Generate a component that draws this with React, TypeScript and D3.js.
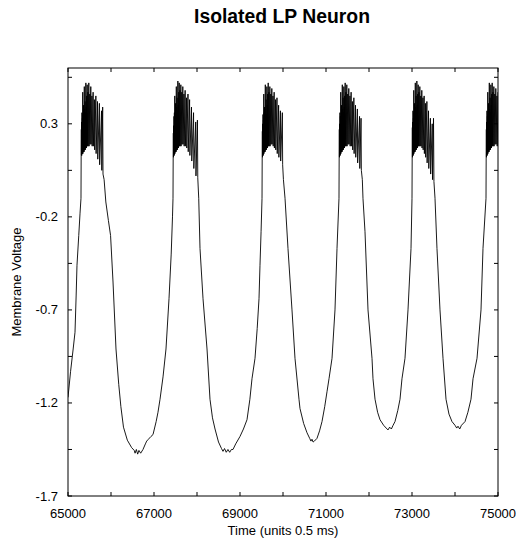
import React from "react";
import * as d3 from "d3";

// ---------- data (time in units of 0.5 ms, membrane voltage) ----------
const xTicks = [65000, 66000, 67000, 68000, 69000, 70000, 71000, 72000, 73000, 74000, 75000];
const xTickLabels = [65000, 67000, 69000, 71000, 73000, 75000];
const yTicks = [-1.7, -1.45, -1.2, -0.95, -0.7, -0.45, -0.2, 0.05, 0.3, 0.55];
const yTickLabels = [-1.7, -1.2, -0.7, -0.2, 0.3];

const wave0: [number, number][] = [
  [65000, -1.17], [65060, -1.03], [65120, -0.91], [65163, -0.82], [65190, -0.62], [65209, -0.46],
  [65250, -0.3], [65280, -0.18], [65302, -0.1],
];
const burst1: [number, number][] = [
  [65306, 0.13], [65310, 0.27], [65313, 0.13], [65317, 0.31], [65320, 0.13], [65325, 0.36], [65329, 0.14],
  [65334, 0.33], [65338, 0.14], [65343, 0.47], [65347, 0.14], [65352, 0.35], [65356, 0.15], [65361, 0.4],
  [65365, 0.15], [65370, 0.37], [65374, 0.15], [65379, 0.5], [65383, 0.16], [65388, 0.38], [65392, 0.16],
  [65397, 0.42], [65401, 0.16], [65406, 0.36], [65410, 0.17], [65415, 0.52], [65419, 0.17], [65425, 0.39],
  [65429, 0.17], [65435, 0.45], [65439, 0.18], [65446, 0.51], [65450, 0.18],
  [65463, 0.47], [65469, 0.18], [65484, 0.52], [65490, 0.18], [65506, 0.46], [65512, 0.19], [65530, 0.5],
  [65536, 0.19], [65556, 0.45], [65562, 0.18], [65584, 0.47], [65590, 0.18], [65614, 0.43], [65620, 0.16],
  [65648, 0.45], [65654, 0.14], [65686, 0.42], [65692, 0.11], [65730, 0.41], [65736, 0.08], [65780, 0.37],
  [65786, 0.05], [65806, 0.39], [65814, 0.03],
];
const wave1: [number, number][] = [
  [65840, 0.0], [65880, -0.12], [65940, -0.22], [65990, -0.3], [66047, -0.55], [66116, -0.91], [66180, -1.1],
  [66230, -1.22], [66290, -1.33], [66380, -1.4], [66480, -1.44], [66540, -1.455], [66560, -1.47], [66590, -1.45],
  [66620, -1.475], [66650, -1.455], [66690, -1.47], [66744, -1.45], [66800, -1.42], [66830, -1.405],
  [66870, -1.395], [66930, -1.38], [66977, -1.37], [67050, -1.3], [67093, -1.25], [67140, -1.18],
  [67210, -1.06], [67279, -0.91], [67349, -0.64], [67400, -0.4], [67430, -0.2], [67442, -0.1],
];
const burst2: [number, number][] = [
  [67446, 0.12], [67450, 0.25], [67453, 0.12], [67457, 0.29], [67460, 0.13], [67465, 0.34], [67469, 0.13],
  [67474, 0.36], [67478, 0.14], [67483, 0.45], [67487, 0.14], [67492, 0.33], [67496, 0.15], [67501, 0.41],
  [67505, 0.15], [67510, 0.36], [67514, 0.15], [67519, 0.5], [67523, 0.16], [67528, 0.39], [67532, 0.16],
  [67537, 0.44], [67541, 0.16], [67546, 0.37], [67550, 0.17], [67555, 0.53], [67559, 0.17], [67565, 0.4],
  [67569, 0.17], [67575, 0.47], [67579, 0.18], [67586, 0.52], [67590, 0.18],
  [67603, 0.48], [67609, 0.18], [67624, 0.51], [67630, 0.18], [67646, 0.47], [67652, 0.19], [67670, 0.5],
  [67676, 0.19], [67696, 0.46], [67702, 0.18], [67724, 0.48], [67730, 0.18], [67756, 0.44], [67762, 0.17],
  [67790, 0.46], [67796, 0.15], [67828, 0.43], [67834, 0.13], [67872, 0.39], [67878, 0.1], [67920, 0.36],
  [67926, 0.06], [67970, 0.31], [67976, 0.02], [68010, 0.32], [68018, 0.01],
];
const wave2: [number, number][] = [
  [68040, -0.1], [68070, -0.37], [68140, -0.64], [68233, -0.91], [68302, -1.18], [68360, -1.28],
  [68419, -1.34], [68500, -1.41], [68570, -1.445], [68605, -1.46], [68640, -1.445], [68680, -1.465],
  [68720, -1.45], [68760, -1.465], [68800, -1.45], [68837, -1.45], [68900, -1.42], [69000, -1.38],
  [69080, -1.34], [69163, -1.29], [69230, -1.18], [69279, -1.07], [69349, -0.96], [69400, -0.8],
  [69442, -0.64], [69465, -0.46], [69490, -0.28], [69512, -0.1],
];
const burst3: [number, number][] = [
  [69516, 0.12], [69520, 0.26], [69523, 0.12], [69527, 0.3], [69530, 0.13], [69535, 0.35], [69539, 0.13],
  [69544, 0.32], [69548, 0.14], [69553, 0.46], [69557, 0.14], [69562, 0.36], [69566, 0.15], [69571, 0.39],
  [69575, 0.15], [69580, 0.38], [69584, 0.15], [69589, 0.51], [69593, 0.16], [69598, 0.37], [69602, 0.16],
  [69607, 0.43], [69611, 0.16], [69616, 0.35], [69620, 0.17], [69625, 0.5], [69629, 0.17], [69635, 0.4],
  [69639, 0.17], [69645, 0.46], [69649, 0.18], [69656, 0.52], [69660, 0.18],
  [69673, 0.47], [69679, 0.18], [69694, 0.5], [69700, 0.18], [69716, 0.46], [69722, 0.19], [69740, 0.49],
  [69746, 0.19], [69766, 0.45], [69772, 0.18], [69794, 0.47], [69800, 0.17], [69826, 0.43], [69832, 0.16],
  [69860, 0.44], [69866, 0.14], [69898, 0.4], [69904, 0.12], [69940, 0.37], [69946, 0.1], [69985, 0.36],
  [69992, 0.08],
];
const wave3: [number, number][] = [
  [70010, 0.0], [70047, -0.1], [70116, -0.37], [70209, -0.7], [70279, -0.96], [70372, -1.18], [70395, -1.23],
  [70480, -1.31], [70558, -1.36], [70620, -1.39], [70650, -1.405], [70674, -1.395], [70700, -1.41],
  [70730, -1.405], [70791, -1.39], [70850, -1.35], [70907, -1.3], [70970, -1.22], [71023, -1.14],
  [71070, -1.07], [71140, -0.96], [71209, -0.7], [71256, -0.37], [71302, -0.1],
];
const burst4: [number, number][] = [
  [71306, 0.12], [71310, 0.27], [71313, 0.12], [71317, 0.3], [71320, 0.13], [71325, 0.36], [71329, 0.13],
  [71334, 0.34], [71338, 0.14], [71343, 0.47], [71347, 0.14], [71352, 0.34], [71356, 0.15], [71361, 0.4],
  [71365, 0.15], [71370, 0.37], [71374, 0.15], [71379, 0.51], [71383, 0.16], [71388, 0.38], [71392, 0.16],
  [71397, 0.44], [71401, 0.16], [71406, 0.36], [71410, 0.17], [71415, 0.5], [71419, 0.17], [71425, 0.39],
  [71429, 0.17], [71435, 0.45], [71439, 0.18], [71446, 0.52], [71450, 0.18],
  [71463, 0.47], [71469, 0.18], [71484, 0.51], [71490, 0.18], [71506, 0.46], [71512, 0.19], [71530, 0.49],
  [71536, 0.19], [71556, 0.45], [71562, 0.18], [71584, 0.47], [71590, 0.18], [71614, 0.42], [71620, 0.16],
  [71648, 0.44], [71654, 0.14], [71686, 0.4], [71692, 0.12], [71730, 0.38], [71736, 0.09], [71780, 0.34],
  [71786, 0.06], [71815, 0.33], [71822, 0.05],
];
const wave4: [number, number][] = [
  [71845, 0.0], [71860, -0.1], [71907, -0.28], [71977, -0.7], [72070, -0.96], [72093, -1.07], [72140, -1.18],
  [72200, -1.25], [72256, -1.29], [72340, -1.32], [72400, -1.335], [72442, -1.345], [72480, -1.33],
  [72520, -1.34], [72560, -1.32], [72605, -1.3], [72670, -1.24], [72721, -1.18], [72767, -1.07],
  [72837, -0.96], [72907, -0.7], [72977, -0.37], [73000, -0.1],
];
const burst5: [number, number][] = [
  [73004, 0.12], [73008, 0.28], [73011, 0.12], [73015, 0.31], [73018, 0.13], [73023, 0.37], [73027, 0.13],
  [73032, 0.33], [73036, 0.14], [73041, 0.48], [73045, 0.14], [73050, 0.36], [73054, 0.15], [73059, 0.41],
  [73063, 0.15], [73068, 0.38], [73072, 0.15], [73077, 0.52], [73081, 0.16], [73086, 0.39], [73090, 0.16],
  [73095, 0.45], [73099, 0.16], [73104, 0.37], [73108, 0.17], [73113, 0.53], [73117, 0.17], [73123, 0.4],
  [73127, 0.17], [73133, 0.46], [73137, 0.18], [73144, 0.51], [73148, 0.18],
  [73161, 0.47], [73167, 0.18], [73182, 0.5], [73188, 0.18], [73204, 0.45], [73210, 0.18], [73228, 0.48],
  [73234, 0.17], [73254, 0.44], [73260, 0.16], [73282, 0.45], [73288, 0.14], [73312, 0.41], [73318, 0.12],
  [73346, 0.42], [73352, 0.09], [73384, 0.37], [73390, 0.06], [73428, 0.33], [73434, 0.03], [73470, 0.3],
  [73478, 0.0], [73500, 0.33], [73510, -0.01],
];
const wave5: [number, number][] = [
  [73535, -0.1], [73581, -0.37], [73651, -0.7], [73721, -0.96], [73791, -1.18], [73860, -1.26],
  [73930, -1.3], [74000, -1.32], [74040, -1.335], [74070, -1.325], [74110, -1.34], [74150, -1.32],
  [74233, -1.3], [74300, -1.25], [74372, -1.18], [74419, -1.07], [74512, -0.96], [74605, -0.7],
  [74651, -0.37], [74721, -0.1],
];
const burst6: [number, number][] = [
  [74725, 0.12], [74729, 0.27], [74732, 0.12], [74736, 0.31], [74739, 0.13], [74744, 0.37], [74748, 0.13],
  [74753, 0.34], [74757, 0.14], [74762, 0.47], [74766, 0.14], [74771, 0.35], [74775, 0.15], [74780, 0.41],
  [74784, 0.15], [74789, 0.37], [74793, 0.15], [74798, 0.52], [74802, 0.16], [74807, 0.38], [74811, 0.16],
  [74816, 0.44], [74820, 0.16], [74825, 0.36], [74829, 0.17], [74834, 0.51], [74838, 0.17], [74844, 0.4],
  [74848, 0.17], [74854, 0.46], [74858, 0.18], [74865, 0.52], [74869, 0.18],
  [74882, 0.47], [74888, 0.18], [74903, 0.5], [74909, 0.18], [74925, 0.46], [74931, 0.19], [74949, 0.49],
  [74955, 0.19], [74975, 0.45], [74981, 0.18], [75003, 0.47], [75009, 0.18],
];

const trace: [number, number][] = [
  ...wave0, ...burst1, ...wave1, ...burst2, ...wave2, ...burst3,
  ...wave3, ...burst4, ...wave4, ...burst5, ...wave5, ...burst6,
];

// ---------- layout ----------
const W = 516;
const H = 540;
const left = 68;
const right = 498;
const top = 68;
const bottom = 496;
const font = "Arial, 'Liberation Sans', Helvetica, sans-serif";

export default function App() {
  const x = d3.scaleLinear().domain([65000, 75000]).range([left, right]);
  const y = d3.scaleLinear().domain([-1.7, 0.6]).range([bottom, top]);
  const line = d3
    .line<[number, number]>()
    .x((d) => x(d[0]))
    .y((d) => y(d[1]));
  const tl = 4;
  const fmtY = (v: number) => (v < 0 ? "-" : "") + Math.abs(v).toFixed(1);

  return (
    <svg
      width={W}
      height={H}
      style={{ position: "absolute", left: 0, top: 0, background: "#fff" }}
      fontFamily={font}
    >
      <defs>
        <clipPath id="plotClip">
          <rect x={left} y={top} width={right - left} height={bottom - top} />
        </clipPath>
      </defs>
      <rect x={0} y={0} width={W} height={H} fill="#fff" />
      <text
        x={282}
        y={23}
        textAnchor="middle"
        fontSize={20}
        fontWeight="bold"
        textLength={176}
        lengthAdjust="spacingAndGlyphs"
      >
        Isolated LP Neuron
      </text>

      <path
        d={line(trace) || ""}
        fill="none"
        stroke="#000"
        strokeWidth={0.9}
        strokeLinejoin="round"
        clipPath="url(#plotClip)"
      />

      <rect x={left} y={top} width={right - left} height={bottom - top} fill="none" stroke="#000" strokeWidth={1} />

      {xTicks.map((t) => (
        <g key={"xt" + t}>
          <line x1={x(t)} x2={x(t)} y1={bottom} y2={bottom - tl} stroke="#000" />
          <line x1={x(t)} x2={x(t)} y1={top} y2={top + tl} stroke="#000" />
        </g>
      ))}
      {yTicks.map((t) => (
        <g key={"yt" + t}>
          <line x1={left} x2={left + tl} y1={y(t)} y2={y(t)} stroke="#000" />
          <line x1={right} x2={right - tl} y1={y(t)} y2={y(t)} stroke="#000" />
        </g>
      ))}
      {xTickLabels.map((t) => (
        <text key={"xl" + t} x={x(t)} y={518} textAnchor="middle" fontSize={13}>
          {t}
        </text>
      ))}
      {yTickLabels.map((t) => (
        <text key={"yl" + t} x={58} y={y(t) + 4.5} textAnchor="end" fontSize={13}>
          {fmtY(t)}
        </text>
      ))}
      <text x={283} y={535} textAnchor="middle" fontSize={13}>
        Time (units 0.5 ms)
      </text>
      <text
        transform={`translate(21,${(top + bottom) / 2}) rotate(-90)`}
        textAnchor="middle"
        fontSize={13}
      >
        Membrane Voltage
      </text>
    </svg>
  );
}
